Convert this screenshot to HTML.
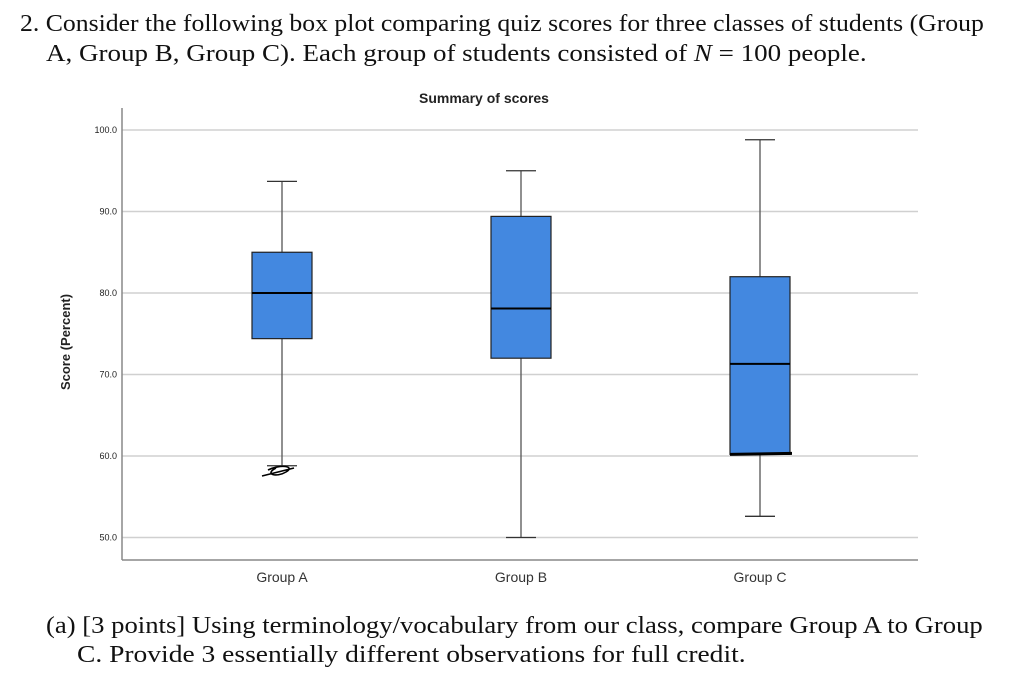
<!DOCTYPE html>
<html><head><meta charset="utf-8"><style>
body{margin:0;background:#fff;width:1024px;height:673px;overflow:hidden;position:relative;font-family:"Liberation Serif",serif;}
.t{position:absolute;font-size:24px;color:#111;white-space:nowrap;transform-origin:0 0;}
</style></head><body>
<div class="t" style="left:20px;top:11px;transform:scaleX(1.072)">2. Consider the following box plot comparing quiz scores for three classes of students (Group</div>
<div class="t" style="left:46px;top:41px;transform:scaleX(1.125)">A, Group B, Group C). Each group of students consisted of <i>N</i> = 100 people.</div>
<svg width="1024" height="673" style="position:absolute;left:0;top:0">
<g id="g"></g>
</svg>
<div class="t" style="left:46px;top:613px;transform:scaleX(1.111)">(a) [3 points] Using terminology/vocabulary from our class, compare Group A to Group</div>
<div class="t" style="left:77px;top:642px;transform:scaleX(1.146)">C. Provide 3 essentially different observations for full credit.</div>
<script>
const categories=["Group A","Group B","Group C"];
const whiskerHigh=[93.7,95.0,98.8];
const q3=[85.0,89.4,82.0];
const median=[80.0,78.1,71.3];
const q1=[74.4,72.0,60.2];
const whiskerLow=[58.8,50.0,52.6];
const ticks=[50,60,70,80,90,100];
const NS="http://www.w3.org/2000/svg";
const g=document.getElementById('g');
const y=v=>130+(100-v)*8.15;
const x=i=>282+i*239;
function mk(t,a){const e=document.createElementNS(NS,t);for(const k in a)e.setAttribute(k,a[k]);g.appendChild(e);return e;}
let e;
e=mk('text',{x:484,y:103,'text-anchor':'middle','font-family':'Liberation Sans, sans-serif','font-size':14,'font-weight':'bold',fill:'#222'});e.textContent='Summary of scores';


ticks.forEach(t=>{
e=mk('line',{x1:122,x2:918,y1:y(t),y2:y(t),stroke:'#d0d0d0','stroke-width':1.5});


e=mk('text',{x:117,y:y(t)+3,'text-anchor':'end','font-family':'Liberation Sans, sans-serif','font-size':9,fill:'#222'});e.textContent=t.toFixed(1);


});
e=mk('line',{x1:122,x2:122,y1:108,y2:560,stroke:'#888','stroke-width':1.5});


e=mk('line',{x1:122,x2:918,y1:560,y2:560,stroke:'#888','stroke-width':1.5});


e=mk('text',{x:0,y:0,transform:'translate(70,342) rotate(-90)','text-anchor':'middle','font-family':'Liberation Sans, sans-serif','font-size':13,'font-weight':'bold',fill:'#222'});e.textContent='Score (Percent)';


categories.forEach((c,i)=>{
const cx=x(i);
e=mk('line',{x1:cx,x2:cx,y1:y(whiskerHigh[i]),y2:y(whiskerLow[i]),stroke:'#555','stroke-width':1.3});


e=mk('line',{x1:cx-15,x2:cx+15,y1:y(whiskerHigh[i]),y2:y(whiskerHigh[i]),stroke:'#333','stroke-width':1.3});


e=mk('line',{x1:cx-15,x2:cx+15,y1:y(whiskerLow[i]),y2:y(whiskerLow[i]),stroke:'#333','stroke-width':1.3});


e=mk('rect',{x:cx-30,y:y(q3[i]),width:60,height:y(q1[i])-y(q3[i]),fill:'#4388e0',stroke:'#222','stroke-width':1.2});


e=mk('line',{x1:cx-30,x2:cx+30,y1:y(median[i]),y2:y(median[i]),stroke:'#000','stroke-width':2});


e=mk('text',{x:cx,y:582,'text-anchor':'middle','font-family':'Liberation Sans, sans-serif','font-size':14,fill:'#333'});e.textContent=c;


});
e=mk('path',{d:'M262,476 L294,468 M268,470 C280,464 296,466 286,472 C276,478 264,474 276,468',stroke:'#000','stroke-width':1.6,fill:'none'});


e=mk('line',{x1:730,x2:792,y1:y(q1[2]),y2:y(q1[2])-1,stroke:'#000','stroke-width':3});


</script>
</body></html>
